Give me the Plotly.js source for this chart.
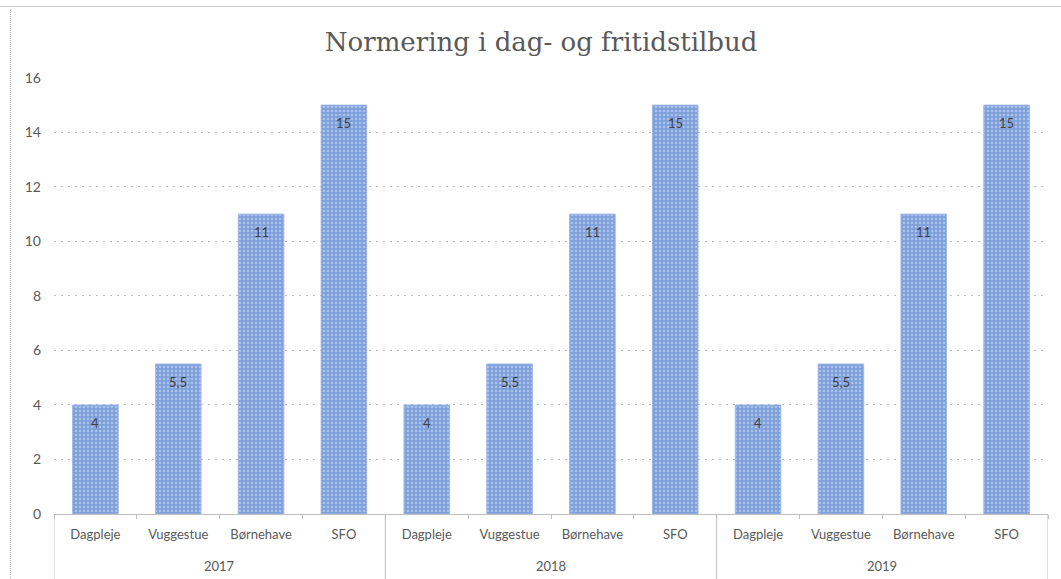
<!DOCTYPE html>
<html>
<head>
<meta charset="utf-8">
<script src="https://cdn.plot.ly/plotly-3.0.1.min.js"></script>
<style>
  html, body { margin:0; padding:0; background:#fff; }
  #wrap { position:relative; width:1061px; height:579px; overflow:hidden; }
  #chart { position:absolute; left:0; top:0; width:1061px; height:579px; }
  #topline { position:absolute; left:0; top:6px; width:1061px; height:1px; background:#c8c8c8; }
  #leftline { position:absolute; left:10px; top:9px; width:0; height:570px; border-left:1px dotted #c0c0c0; }
</style>
</head>
<body>
<div id="wrap">
  <div id="chart"></div>
  <div id="topline"></div>
  <div id="leftline"></div>
</div>
<script>
const years = ["2017", "2018", "2019"];
const categories = ["Dagpleje", "Vuggestue", "Børnehave", "SFO"];
const values2017 = [4, 5.5, 11, 15];
const values2018 = [4, 5.5, 11, 15];
const values2019 = [4, 5.5, 11, 15];
const yTicks = [0, 2, 4, 6, 8, 10, 12, 14, 16];

const allValues = [values2017, values2018, values2019];
const xPos = [], xLabels = [], yVals = [], labels = [];
let k = 0;
years.forEach((yr, i) => {
  categories.forEach((c, j) => {
    xPos.push(k);
    xLabels.push(c);
    yVals.push(allValues[i][j]);
    labels.push(String(allValues[i][j]).replace('.', ','));
    k++;
  });
});
const nCat = categories.length;
const nAll = xPos.length;

const trace = {
  type: 'bar',
  x: xPos,
  y: yVals,
  marker: {
    color: '#86A6DD',
    line: { color: '#9DB7E6', width: 1 },
    pattern: { shape: '.', fgcolor: '#A9C2EE', bgcolor: '#7E9FD8', size: 4, solidity: 0.35, fillmode: 'replace' }
  },
  width: 0.55,
  hoverinfo: 'none'
};

const font = 'Lato, Open Sans, Liberation Sans, sans-serif';
const annotations = [];
// data labels
xPos.forEach((x, i) => {
  annotations.push({
    x: x, y: yVals[i], xref: 'x', yref: 'y',
    text: labels[i], showarrow: false, yshift: -18,
    font: { family: font, size: 13, color: '#404040' }
  });
});
// year labels
years.forEach((yr, i) => {
  annotations.push({
    x: i * nCat + (nCat - 1) / 2, xref: 'x',
    y: 0, yref: 'paper', yanchor: 'middle', yshift: -52,
    text: yr, showarrow: false,
    font: { family: font, size: 13, color: '#595959' }
  });
});
// dividers
const shapes = [];
for (let i = 0; i <= years.length; i++) {
  const xv = i * nCat - 0.5;
  shapes.push({
    type: 'line', xref: 'x', yref: 'paper',
    x0: xv, x1: xv, y0: 0, y1: -0.2,
    line: { color: '#BFBFBF', width: 1 }
  });
}
const minorVals = [];
for (let i = 0; i <= nAll; i++) minorVals.push(i - 0.5);

const layout = {
  width: 1061,
  height: 579,
  margin: { l: 54, r: 13, t: 77, b: 65 },
  paper_bgcolor: 'rgba(0,0,0,0)',
  plot_bgcolor: 'rgba(0,0,0,0)',
  showlegend: false,
  title: {
    text: 'Normering i dag- og fritidstilbud',
    font: { family: 'DejaVu Serif, Liberation Serif, serif', size: 26, color: '#595959' },
    x: 0.51, xanchor: 'center', y: 0.928, yanchor: 'middle'
  },
  xaxis: {
    range: [-0.5, nAll - 0.5],
    tickvals: xPos,
    ticktext: xLabels,
    showline: true,
    linecolor: '#BFBFBF',
    linewidth: 1,
    ticks: '',
    showgrid: false,
    zeroline: false,
    ticklabelstandoff: 8,
    minor: { tickvals: minorVals, ticks: 'outside', ticklen: 4, tickcolor: '#BFBFBF', showgrid: false },
    tickfont: { family: font, size: 13, color: '#595959' }
  },
  yaxis: {
    range: [0, 16.03],
    tickvals: yTicks,
    ticktext: yTicks.map(String),
    showgrid: true,
    gridcolor: '#BDBDBD',
    griddash: '2px,5px',
    gridwidth: 1,
    zeroline: false,
    showline: false,
    ticks: '',
    ticklabelstandoff: 12,
    tickfont: { family: font, size: 14, color: '#595959' }
  },
  annotations: annotations,
  shapes: shapes
};

Plotly.newPlot('chart', [trace], layout, { displayModeBar: false, staticPlot: true });
</script>
</body>
</html>
